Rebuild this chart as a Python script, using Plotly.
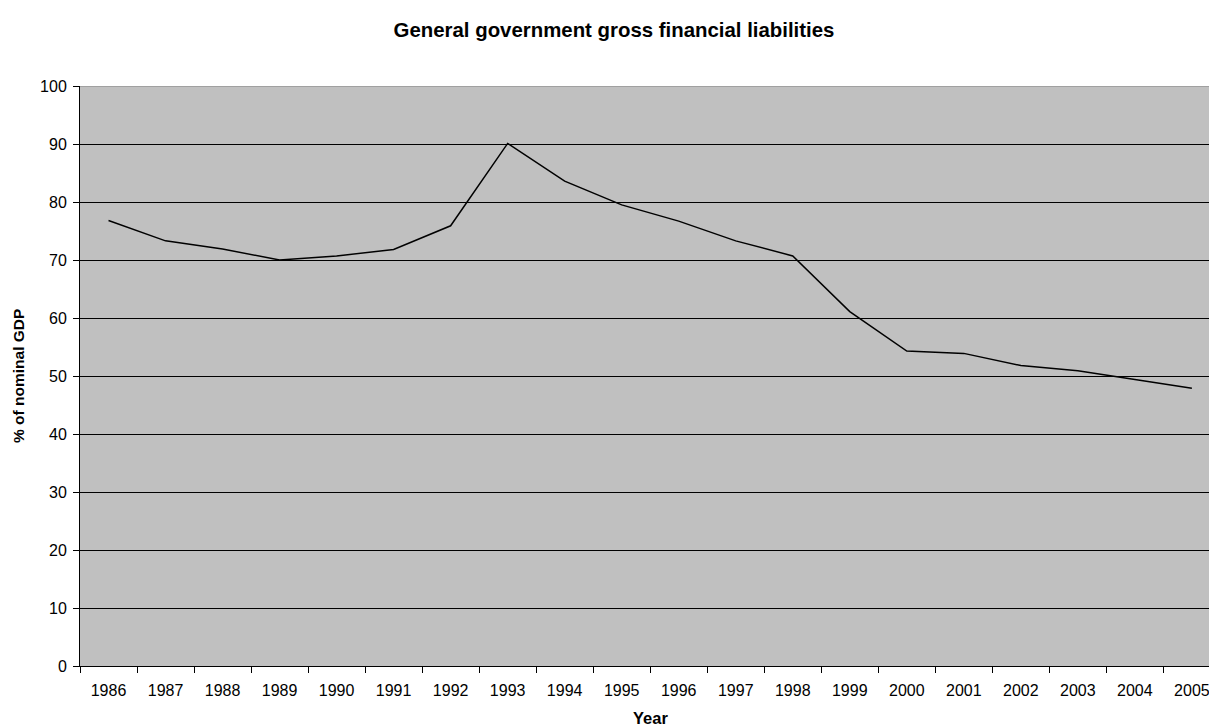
import plotly.graph_objects as go

years = [str(y) for y in range(1986, 2006)]
liabilities = [76.8, 73.3, 71.9, 70.0, 70.7, 71.8, 75.9, 90.1, 83.6, 79.5,
               76.7, 73.3, 70.7, 61.1, 54.3, 53.9, 51.8, 50.9, 49.4, 47.9]
y_ticks = list(range(0, 101, 10))

FONT = "Arial, Liberation Sans, sans-serif"
W, H = 1209, 727

fig = go.Figure()
fig.add_trace(go.Scatter(x=years, y=liabilities, mode="lines",
                         line=dict(color="black", width=1.5), showlegend=False,
                         hoverinfo="x+y"))

fig.update_layout(
    width=W, height=H,
    margin=dict(l=80, r=0, t=86, b=61),
    paper_bgcolor="white", plot_bgcolor="#C0C0C0",
    font=dict(family=FONT, size=16, color="black"),
    title=dict(text="<b>General government gross financial liabilities</b>",
               x=614 / W, xref="container", xanchor="center",
               y=1 - 30 / H, yanchor="middle",
               font=dict(family=FONT, size=20.4, color="black")),
    xaxis=dict(type="category", range=[-0.5, 19.3], tickson="boundaries",
               ticks="outside", ticklen=6, tickcolor="black", tickwidth=1,
               showline=True, linecolor="black", linewidth=1,
               showgrid=False, zeroline=False, ticklabelstandoff=10,
               tickfont=dict(family=FONT, size=16)),
    yaxis=dict(range=[0, 100], tickvals=y_ticks, ticks="outside", ticklen=6,
               tickcolor="black", tickwidth=1, ticklabelstandoff=3,
               showline=True, linecolor="black", linewidth=1,
               showgrid=True, gridcolor="black", gridwidth=1, zeroline=False,
               tickfont=dict(family=FONT, size=16)),
)

fig.add_annotation(text="<b>Year</b>", xref="paper", yref="paper",
                   x=(650 - 80) / 1129, y=-(718 - 666) / 580,
                   xanchor="center", yanchor="middle", showarrow=False,
                   font=dict(family=FONT, size=16.5, color="black"))
fig.add_annotation(text="<b>% of nominal GDP</b>", xref="paper", yref="paper",
                   x=-(80 - 18) / 1129, y=(666 - 376) / 580, textangle=-90,
                   xanchor="center", yanchor="middle", showarrow=False,
                   font=dict(family=FONT, size=15.5, color="black"))

fig.add_shape(type="line", xref="paper", yref="y", x0=0, x1=1, y0=100, y1=100,
              line=dict(color="#808080", width=1))

fig.write_html("out.html")
